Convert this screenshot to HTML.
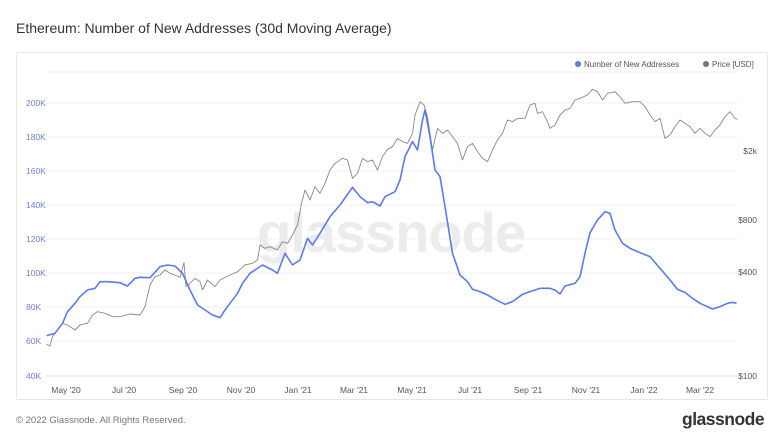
<!DOCTYPE html>
<html><head><meta charset="utf-8"><style>
body{margin:0;width:782px;height:440px;background:#fff;font-family:"Liberation Sans",sans-serif;position:relative;overflow:hidden}
.t{position:absolute;left:16px;top:20px;font-size:14px;color:#333}
.card{position:absolute;left:16px;top:52px;width:750px;height:346px;border:1px solid #e6e6e6;border-radius:2px}
.f{position:absolute;left:16px;top:415px;font-size:9.5px;color:#777}
.logo{position:absolute;left:682px;top:409px;font-size:17.5px;font-weight:bold;color:#333;letter-spacing:-0.5px}
svg{position:absolute;left:0;top:0}
</style></head><body>
<div class="t">Ethereum: Number of New Addresses (30d Moving Average)</div>
<div class="card"></div>
<svg width="782" height="440" font-family="Liberation Sans, sans-serif">
<g stroke="#f0f0f0" stroke-width="1">
<line x1="46" x2="737" y1="72" y2="72"/><line x1="46" x2="737" y1="103" y2="103"/><line x1="46" x2="737" y1="137" y2="137"/><line x1="46" x2="737" y1="171" y2="171"/><line x1="46" x2="737" y1="205" y2="205"/><line x1="46" x2="737" y1="239" y2="239"/><line x1="46" x2="737" y1="273" y2="273"/><line x1="46" x2="737" y1="307" y2="307"/><line x1="46" x2="737" y1="341" y2="341"/><line x1="46" x2="737" y1="376" y2="376" stroke="#ddd"/>
</g>
<text x="391" y="252" font-size="56" fill="#ececec" text-anchor="middle" font-weight="bold" letter-spacing="-1">glassnode</text>
<g font-size="8.5" fill="#6b7fdc">
<text x="26" y="106">200K</text><text x="26" y="140">180K</text><text x="26" y="174">160K</text><text x="26" y="208">140K</text><text x="26" y="242">120K</text><text x="26" y="276">100K</text><text x="26" y="310">80K</text><text x="26" y="344">60K</text><text x="26" y="379">40K</text>
</g>
<g font-size="8.5" fill="#555" text-anchor="end">
<text x="757" y="154">$2k</text><text x="757" y="223">$800</text><text x="757" y="275">$400</text><text x="757" y="379">$100</text>
</g>
<g font-size="8.5" fill="#555" text-anchor="middle">
<text x="66" y="393">May '20</text><text x="124" y="393">Jul '20</text><text x="183" y="393">Sep '20</text><text x="241" y="393">Nov '20</text><text x="298" y="393">Jan '21</text><text x="354" y="393">Mar '21</text><text x="412" y="393">May '21</text><text x="470" y="393">Jul '21</text><text x="528" y="393">Sep '21</text><text x="586" y="393">Nov '21</text><text x="644" y="393">Jan '22</text><text x="700" y="393">Mar '22</text>
</g>
<circle cx="578" cy="64" r="3" fill="#5b7bea"/><text x="584" y="67" font-size="8" fill="#555">Number of New Addresses</text>
<circle cx="706" cy="64" r="3" fill="#777"/><text x="712" y="67" font-size="8" fill="#555">Price [USD]</text>
<g transform="translate(0,40) scale(0.5,0.33333)" fill="none" stroke-linejoin="round">
<polyline vector-effect="non-scaling-stroke" stroke="#888" stroke-width="0.9" points="93,912 100,918 105,890 115,870 125,850 135,855 150,870 160,855 175,850 185,825 195,815 210,820 225,830 240,830 260,822 280,825 290,800 300,735 310,710 320,705 330,690 340,700 350,705 360,712 368,668 372,740 380,730 390,715 400,725 405,750 415,720 430,740 440,720 460,705 475,695 490,675 505,670 515,660 520,615 530,625 540,620 555,630 565,605 575,610 585,585 595,555 603,490 610,450 620,480 630,440 640,460 650,430 660,390 670,370 685,355 695,360 705,415 715,400 725,355 735,365 745,360 755,390 765,350 775,328 785,320 795,295 805,305 815,310 825,280 830,225 840,185 848,195 855,230 865,330 875,265 885,280 895,270 905,290 915,310 925,360 935,320 945,310 955,335 965,355 975,365 985,330 995,300 1005,280 1015,240 1025,245 1035,235 1050,235 1060,195 1070,190 1075,220 1085,215 1095,245 1100,265 1110,255 1120,225 1130,210 1140,205 1150,180 1160,175 1175,165 1185,148 1195,155 1205,180 1215,160 1230,155 1240,170 1250,190 1265,185 1280,185 1290,200 1300,225 1310,245 1320,235 1330,295 1340,285 1350,260 1360,240 1370,250 1380,260 1390,280 1400,265 1410,280 1420,290 1430,270 1440,255 1450,230 1460,215 1470,235 1475,238"/>
<polyline vector-effect="non-scaling-stroke" stroke="#5b7bea" stroke-width="1.6" points="93,887 110,880 125,850 135,815 150,790 160,770 175,750 190,745 200,725 215,725 240,728 255,738 270,715 280,712 300,713 320,680 335,675 350,678 365,700 380,750 395,795 410,810 425,825 440,833 450,810 460,790 475,760 485,730 500,700 510,690 525,675 545,690 555,700 570,640 585,675 600,660 615,595 625,615 640,580 660,530 680,495 705,442 720,470 735,488 745,485 760,498 770,470 790,455 800,420 810,350 825,305 835,330 845,240 850,210 860,290 870,390 880,410 890,500 905,640 920,705 935,725 945,748 960,755 975,765 990,778 1010,793 1025,785 1045,763 1060,755 1080,745 1100,745 1110,750 1120,762 1130,738 1150,730 1160,710 1170,640 1180,578 1195,540 1210,515 1220,520 1230,570 1245,610 1260,625 1280,638 1300,650 1320,685 1340,720 1355,748 1370,757 1385,775 1400,790 1425,807 1440,800 1455,790 1465,787 1473,790"/>
</g>
</svg>
<div class="f">© 2022 Glassnode. All Rights Reserved.</div>
<div class="logo">glassnode</div>
</body></html>
